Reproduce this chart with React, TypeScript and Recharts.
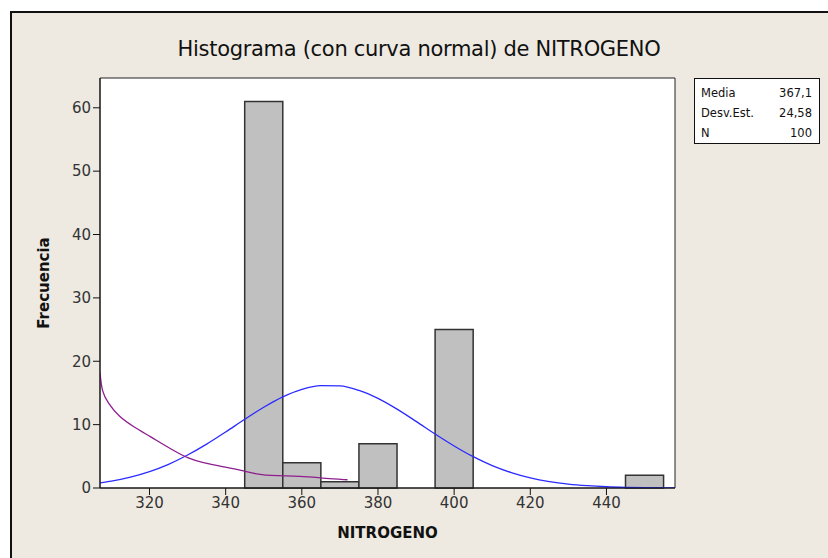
import { ComposedChart, Line, ReferenceArea, XAxis, YAxis, Label } from "recharts";

const FRAME_BG = "#EEEAE1";
const BAR_FILL = "#C0C0C0";
const BAR_EDGE = "#333333";
const NORMAL_BLUE = "#2B2BFF";
const TREND_PURPLE = "#8E1E8E";
const FONT = "'DejaVu Sans', Verdana, sans-serif";

// histogram bins (NITROGENO) and counts
const BIN_LO = [345, 355, 365, 375, 395, 445];
const BIN_HI = [355, 365, 375, 385, 405, 455];
const COUNTS = [61, 4, 1, 7, 25, 2];

// fitted normal curve, scaled to frequency
const NORMAL_X = [307, 310, 315, 320, 325, 330, 335, 340, 345, 350, 355, 360, 365, 370, 375, 380, 385, 390, 395, 400, 405, 410, 415, 420, 425, 430, 435, 440, 445, 450, 455, 458];
const NORMAL_Y = [0.82, 1.09, 1.72, 2.59, 3.74, 5.2, 6.92, 8.84, 10.84, 12.74, 14.38, 15.57, 16.17, 16.12, 15.41, 14.14, 12.45, 10.52, 8.52, 6.63, 4.94, 3.54, 2.43, 1.6, 1.01, 0.61, 0.36, 0.2, 0.11, 0.06, 0.03, 0.02];

// smoothed trend line
const TREND_X = [307, 307.5, 309, 312, 316, 320, 326, 330, 334, 339, 345, 349, 356, 362, 366, 372];
const TREND_Y = [18.2, 15.2, 13.5, 11.2, 9.6, 8.2, 6.0, 4.7, 4.0, 3.4, 2.7, 2.0, 1.9, 1.8, 1.5, 1.3];

const X_TICKS = [320, 340, 360, 380, 400, 420, 440];
const Y_TICKS = [0, 10, 20, 30, 40, 50, 60];

const X_MIN = 307;
const X_MAX = 458;
const Y_MAX = 64.7;

const normalData = NORMAL_X.map((x, i) => ({ x, y: NORMAL_Y[i] }));
const trendData = TREND_X.map((x, i) => ({ x, y: TREND_Y[i] }));

const tickStyle = { fill: "#333", fontSize: 15, fontFamily: FONT };

export default function App() {
  return (
    <div style={{ position: "absolute", left: 0, top: 0, width: 828, height: 558, background: "#fff", overflow: "hidden" }}>
      <div
        style={{
          position: "absolute",
          left: 10,
          top: 11,
          width: 840,
          height: 560,
          background: FRAME_BG,
          borderLeft: "2px solid #111",
          borderTop: "2px solid #111",
        }}
      />
      <div
        style={{
          position: "absolute",
          left: 0,
          top: 37,
          width: 838,
          textAlign: "center",
          fontFamily: FONT,
          fontSize: 21,
          letterSpacing: -0.3,
          color: "#111",
        }}
      >
        Histograma (con curva normal) de NITROGENO
      </div>

      <div style={{ position: "absolute", left: 0, top: 0 }}>
        <ComposedChart width={828} height={558} margin={{ top: 78, right: 153, bottom: 40, left: 40 }}>
          <XAxis
            type="number"
            dataKey="x"
            domain={[X_MIN, X_MAX]}
            ticks={X_TICKS}
            allowDataOverflow
            stroke="#111"
            tick={tickStyle}
            tickSize={7}
            height={30}
          >
            <Label value="NITROGENO" position="insideBottom" offset={-20} style={{ fill: "#111", fontSize: 15, fontWeight: 700, fontFamily: FONT }} />
          </XAxis>
          <YAxis
            type="number"
            domain={[0, Y_MAX]}
            ticks={Y_TICKS}
            allowDataOverflow
            stroke="#111"
            tick={tickStyle}
            tickSize={7}
            width={60}
          >
            <Label value="Frecuencia" angle={-90} position="insideLeft" offset={4} style={{ fill: "#111", fontSize: 15, fontWeight: 700, fontFamily: FONT, textAnchor: "middle" }} />
          </YAxis>

          <ReferenceArea x1={X_MIN} x2={X_MAX} y1={0} y2={Y_MAX} fill="#fff" fillOpacity={1} stroke="#222" strokeWidth={1} />
          {COUNTS.map((c, i) => (
            <ReferenceArea
              key={i}
              x1={BIN_LO[i]}
              x2={BIN_HI[i]}
              y1={0}
              y2={c}
              fill={BAR_FILL}
              fillOpacity={1}
              stroke={BAR_EDGE}
              strokeWidth={1.5}
            />
          ))}

          <Line data={normalData} dataKey="y" type="monotone" stroke={NORMAL_BLUE} strokeWidth={1.3} dot={false} isAnimationActive={false} />
          <Line data={trendData} dataKey="y" type="basis" stroke={TREND_PURPLE} strokeWidth={1.3} dot={false} isAnimationActive={false} />
        </ComposedChart>
      </div>

      <div
        style={{
          position: "absolute",
          left: 694,
          top: 78,
          width: 126,
          height: 66,
          border: "1px solid #111",
          background: "#fff",
          fontFamily: FONT,
          fontSize: 11.5,
          color: "#111",
          boxSizing: "border-box",
          padding: "4px 7px 0 6px",
          lineHeight: "20px",
        }}
      >
        {[
          ["Media", "367,1"],
          ["Desv.Est.", "24,58"],
          ["N", "100"],
        ].map(([k, v]) => (
          <div key={k} style={{ display: "flex", justifyContent: "space-between", height: 20 }}>
            <span>{k}</span>
            <span>{v}</span>
          </div>
        ))}
      </div>
    </div>
  );
}
